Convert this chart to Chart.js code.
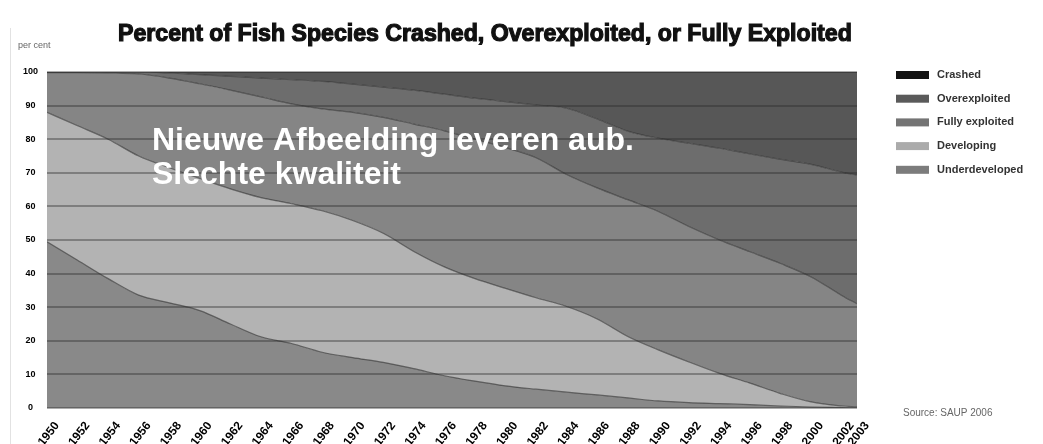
<!DOCTYPE html>
<html>
<head>
<meta charset="utf-8">
<script src="https://cdn.jsdelivr.net/npm/chart.js@4.4.1/dist/chart.umd.min.js"></script>
<style>
html,body{margin:0;padding:0;background:#fff;}
#wrap{width:1043px;height:444px;position:relative;}
canvas{display:block;}
</style>
</head>
<body>
<div id="wrap"><canvas id="c" width="1043" height="444" style="width:1043px;height:444px"></canvas></div>
<script>
// ---- data ----
const years = [1950,1952,1954,1956,1958,1960,1962,1964,1966,1968,1970,1972,1974,1976,1978,1980,1982,1984,1986,1988,1990,1992,1994,1996,1998,2000,2002,2003];
const tickYears = [1950,1952,1954,1956,1958,1960,1962,1964,1966,1968,1970,1972,1974,1976,1978,1980,1982,1984,1986,1988,1990,1992,1994,1996,1998,2000,2002,2003];
const yTicks = [0,10,20,30,40,50,60,70,80,90,100];
const seriesNames = ['Underdeveloped','Developing','Fully exploited','Overexploited','Crashed'];
const underdeveloped = [49.5,44,38.5,33.6,31.3,29,25,21.2,19.2,16.6,15,13.6,11.7,9.6,8,6.6,5.6,4.7,3.9,3,2.1,1.6,1.3,1,0.6,0.3,0.1,0];
const developing     = [38.5,40,41.5,41.4,40.2,39.3,40.2,41.4,41.6,42.1,40.8,38.4,34.9,32.4,30.5,29,27.2,25.5,22.6,18.3,15.2,12.1,9,6.4,3.7,1.5,0.5,0.3];
const fullyExploited = [11.8,15.8,19.7,24.4,26.7,28.2,29.4,30,29.7,30.3,32.2,34.5,37.9,40.5,41.5,41.9,41.7,39.3,39,40.7,41.2,40.3,39.7,39.1,38.7,37.2,32.9,30.7];
const overexploited  = [0.2,0.2,0.3,0.6,1.5,2.7,4.1,5.6,7.2,8.2,8.4,9,10.1,10.9,12.2,13.7,15.7,19.7,20.5,20.4,21.8,24.8,27.3,29.1,31,33.5,36.7,38.3];
const crashed        = [0,0,0,0,0.3,0.8,1.3,1.8,2.3,2.8,3.6,4.5,5.4,6.6,7.8,8.8,9.8,10.8,14,17.6,19.7,21.2,22.7,24.4,26,27.5,29.8,30.7];

// ---- styles ----
const fillColors   = ['#898989','#b3b3b3','#858585','#6d6d6d','#575757'];
const legendColors = ['#7c7c7c','#ababab','#747474','#5a5a5a','#121212'];
const seriesValues = [underdeveloped, developing, fullyExploited, overexploited, crashed];

const datasets = seriesNames.map((name, i) => ({
  label: name,
  data: years.map((yr, j) => ({x: yr, y: seriesValues[i][j]})),
  backgroundColor: fillColors[i],
  borderColor: 'rgba(50,50,50,0.65)',
  borderWidth: 1.2,
  pointRadius: 0,
  fill: i === 0 ? 'origin' : '-1',
  cubicInterpolationMode: 'monotone'
}));

const FONT = '"Liberation Sans", Arial, sans-serif';

const decor = {
  id: 'decor',
  afterDraw(chart) {
    const ctx = chart.ctx;
    ctx.save();
    // faint frame line on left
    ctx.strokeStyle = '#e2e2e2';
    ctx.lineWidth = 1;
    ctx.beginPath(); ctx.moveTo(10.5, 28); ctx.lineTo(10.5, 444); ctx.stroke();

    // title
    const title = 'Percent of Fish Species Crashed, Overexploited, or Fully Exploited';
    ctx.font = 'bold 21px ' + FONT;
    const w = ctx.measureText(title).width;
    const size = 21 * 734 / w;
    ctx.font = 'bold ' + size.toFixed(2) + 'px ' + FONT;
    ctx.fillStyle = '#111';
    ctx.strokeStyle = '#111';
    ctx.lineWidth = 1.2;
    ctx.textBaseline = 'alphabetic';
    ctx.textAlign = 'left';
    ctx.fillText(title, 118, 41);
    ctx.strokeText(title, 118, 41);

    // y unit
    ctx.font = '9px ' + FONT;
    ctx.fillStyle = '#666';
    ctx.fillText('per cent', 18, 48);

    // legend (top = last series)
    ctx.font = 'bold 11px ' + FONT;
    for (let k = 0; k < seriesNames.length; k++) {
      const i = seriesNames.length - 1 - k;
      const yc = 75 + k * 23.7;
      ctx.fillStyle = legendColors[i];
      ctx.fillRect(896, yc - 4, 33, 8);
      ctx.fillStyle = '#333';
      ctx.textBaseline = 'middle';
      ctx.fillText(seriesNames[i], 937, yc);
    }

    // source
    ctx.font = '10px ' + FONT;
    ctx.fillStyle = '#666';
    ctx.textBaseline = 'alphabetic';
    ctx.fillText('Source: SAUP 2006', 903, 416);

    // overlay note
    ctx.font = 'bold 32px ' + FONT;
    ctx.fillStyle = '#ffffff';
    ctx.fillText('Nieuwe Afbeelding leveren aub.', 152, 150);
    ctx.fillText('Slechte kwaliteit', 152, 184);
    ctx.restore();
  }
};

new Chart(document.getElementById('c'), {
  type: 'line',
  data: { datasets },
  plugins: [decor],
  options: {
    responsive: false,
    animation: false,
    devicePixelRatio: 1,
    layout: { padding: { left: 0, top: 72, right: 186, bottom: 0 } },
    plugins: { legend: { display: false }, tooltip: { enabled: false } },
    elements: { line: { tension: 0.3 } },
    scales: {
      x: {
        type: 'linear',
        min: 1950, max: 2003,
        grid: { display: false },
        border: { display: false },
        afterBuildTicks: (s) => { s.ticks = tickYears.map(v => ({ value: v })); },
        afterFit: (s) => { s.height = 36; },
        ticks: {
          autoSkip: false,
          minRotation: 52, maxRotation: 52,
          padding: 3,
          labelOffset: 10,
          color: '#000',
          font: { family: FONT, size: 12, weight: 'bold' },
          callback: (v) => String(v)
        }
      },
      y: {
        stacked: true,
        min: 0, max: 100,
        afterBuildTicks: (s) => { s.ticks = yTicks.map(v => ({ value: v })); },
        afterFit: (s) => { s.width = 47; },
        grid: { color: 'rgba(40,40,40,0.38)', lineWidth: 2, drawTicks: false, z: 1 },
        border: { display: false },
        ticks: {
          padding: 9,
          crossAlign: 'center',
          color: '#000',
          font: { family: FONT, size: 9, weight: 'bold' }
        }
      }
    }
  }
});
</script>
</body>
</html>
